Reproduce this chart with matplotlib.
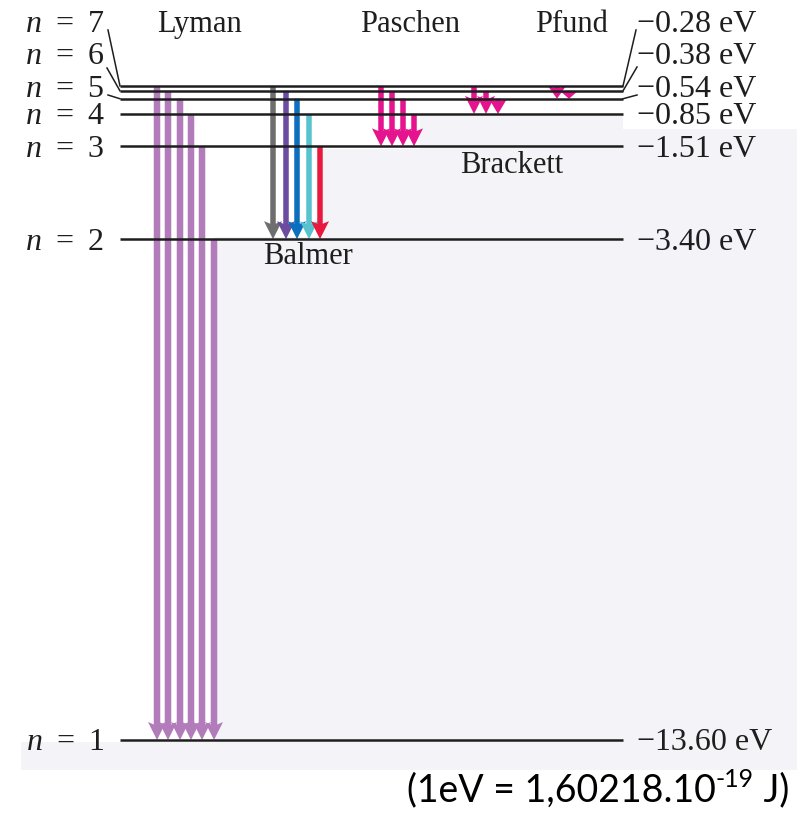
import numpy as np
import matplotlib
matplotlib.use("Agg")
import matplotlib.pyplot as plt
from matplotlib.patches import Polygon

# hydrogen energy levels, n = 1..7 (eV)
levelN = [1, 2, 3, 4, 5, 6, 7]
levelE = [-13.60, -3.40, -1.51, -0.85, -0.54, -0.38, -0.28]
levelText = ["\u221213.60 eV", "\u22123.40 eV", "\u22121.51 eV", "\u22120.85 eV",
             "\u22120.54 eV", "\u22120.38 eV", "\u22120.28 eV"]

# transitions of each series: upper levels, and the level they fall to
seriesNames = ["Lyman", "Balmer", "Paschen", "Brackett", "Pfund"]
seriesLower = [1, 2, 3, 4, 5]
seriesUpper = [[7, 6, 5, 4, 3, 2],
               [7, 6, 5, 4, 3],
               [7, 6, 5, 4],
               [7, 6, 5],
               [7, 6]]

captionMain = "(1eV = 1,60218.10"
captionExp = "-19"
captionEnd = " J)"

# ---- layout ----
W, H = 801, 816
pxPerEv = 49.1
yTop = levelE[0] + 740 / pxPerEv
yBot = levelE[0] - (H - 740) / pxPerEv

def ev(ypx):
    return yTop - ypx / pxPerEv

arrowX = [[157, 168, 180, 191, 202, 214],
          [273, 286, 297, 309, 320],
          [381, 392, 403, 414],
          [474, 486, 498],
          [557, 569]]
arrowColors = [["#b27bba"] * 6,
               ["#6e6e6e", "#6b4ca0", "#0b6fbe", "#57c3cf", "#e8193f"],
               ["#e5148e"] * 4,
               ["#e5148e"] * 3,
               ["#e5148e"] * 2]
shaftW = [6.5, 5.5, 5.5, 5.5, 5.5]
nameXY = [(200, 24), (308, 256), (410, 24), (512, 165), (572, 24)]

lineX0, lineX1 = 120, 623
leftLabelY = {5: 89, 6: 56, 7: 24}
leftLeader = {5: (108, 95), 6: (107, 68), 7: (108, 30)}
rightLeader = {5: (637, 95), 6: (637, 67), 7: (636, 30)}

plt.rcParams['mathtext.fontset'] = 'custom'
plt.rcParams['mathtext.rm'] = 'Liberation Serif'
plt.rcParams['mathtext.it'] = 'Liberation Serif:italic'
serif = 'Liberation Serif'
ink = '#1e1e1e'


def drawArrow(ax, x, eStart, eEnd, color, shaft, headW=18, headL=18):
    k = 1.0 / pxPerEv
    hl = min(headL * k, eStart - eEnd)
    notch = eEnd + 0.86 * hl
    pts = [(x, eEnd), (x + headW / 2, eEnd + hl), (x + shaft / 2, notch),
           (x + shaft / 2, eStart), (x - shaft / 2, eStart),
           (x - shaft / 2, notch), (x - headW / 2, eEnd + hl)]
    ax.add_patch(Polygon(pts, closed=True, facecolor=color, edgecolor='none', zorder=2))


fig = plt.figure(figsize=(W / 100, H / 100), dpi=100)
ax = fig.add_axes([0, 0, 1, 1])
ax.set_xlim(0, W)
ax.set_ylim(yBot, yTop)
ax.axis('off')

# light panel behind the lower part of the diagram
bg = [(21, 742), (215, 742), (215, 237), (323, 237), (323, 149), (420, 149),
      (420, 116), (623, 116), (623, 129), (797, 129), (797, 770), (21, 770)]
ax.add_patch(Polygon([(x / W, 1 - y / H) for x, y in bg], closed=True,
                     facecolor='#f3f3f8', edgecolor='none',
                     transform=fig.transFigure, zorder=0))

for s in range(len(seriesNames)):
    eLow = levelE[seriesLower[s] - 1]
    for j, nUp in enumerate(seriesUpper[s]):
        drawArrow(ax, arrowX[s][j], levelE[nUp - 1], eLow,
                  arrowColors[s][j], shaftW[s])
    ax.text(nameXY[s][0], ev(nameXY[s][1]), seriesNames[s], family=serif,
            fontsize=22, ha='center', va='center', color=ink)

ax.hlines(levelE, lineX0, lineX1, color=ink, lw=1.8, zorder=3)

for n, e, t in zip(levelN, levelE, levelText):
    if n in leftLabelY:
        yl = ev(leftLabelY[n])
        lx, ly = leftLeader[n]
        rx, ry = rightLeader[n]
        ax.plot([lineX0, lx], [e, ev(ly)], color=ink, lw=1.1, zorder=3)
        ax.plot([lineX1, rx], [e, ev(ry)], color=ink, lw=1.1, zorder=3)
    else:
        yl = e - 3 / pxPerEv
    ax.text(65, yl, "$n$\u2009 = \u2009%d" % n, family=serif, fontsize=23,
            ha='center', va='center', color=ink)
    ax.text(637, yl, t, family=serif, fontsize=23,
            ha='left', va='center', color=ink)

# unit note under the panel
t1 = ax.text(407, ev(790), captionMain, family='Lato', fontsize=27,
             ha='left', va='center', color='black')
t2 = ax.annotate(captionExp, xy=(1.0, 0.80), xycoords=t1, family='Lato',
                 fontsize=18, ha='left', va='center', color='black')
ax.annotate(captionEnd, xy=(1.0, 0.5), xycoords=(t2, t1), family='Lato',
            fontsize=27, ha='left', va='center', color='black')

plt.savefig("out.png", dpi=100)
